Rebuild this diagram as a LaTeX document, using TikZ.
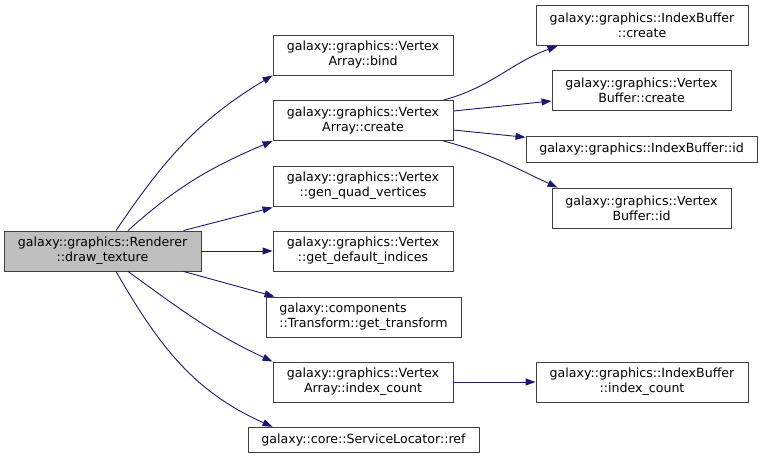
\documentclass[tikz,border=0pt]{standalone}
\usepackage{fontspec}
\setmainfont{DejaVu Sans}
\usetikzlibrary{arrows.meta}
\definecolor{edgeblue}{HTML}{191970}
\definecolor{boxline}{HTML}{404040}
\definecolor{focusfill}{HTML}{BFBFBF}

\begin{document}
\begin{tikzpicture}[
    x=1pt, y=-1pt,
    every node/.style={font=\fontsize{12.6}{15}\selectfont},
    fn/.style={rectangle, draw=boxline, fill=white, line width=0.9pt,
               inner sep=0pt, minimum height=40pt, align=center},
    fnline/.style={fn, minimum height=25.5pt},
    focus/.style={fn, fill=focusfill},
    call/.style={-{Triangle[length=10pt, width=7pt]}, line width=0.9pt, color=edgeblue},
]
\useasboundingbox (0,0) rectangle (763,459);

% the caller
\node[focus, minimum width=197pt] (rdraw) at (102.5,251)
    {galaxy::graphics::Renderer\\::draw\_texture};

% first level of callees
\node[fn, minimum width=180pt] (vabind) at (363,55) {galaxy::graphics::Vertex\\Array::bind};
\node[fn, minimum width=180pt] (vacreate) at (363,120.5) {galaxy::graphics::Vertex\\Array::create};
\node[fn, minimum width=180pt] (vgenquad) at (363,186) {galaxy::graphics::Vertex\\::gen\_quad\_vertices};
\node[fn, minimum width=180pt] (vgetdefault) at (363,251) {galaxy::graphics::Vertex\\::get\_default\_indices};
\node[fn, minimum width=195pt, align=left] (ttransform) at (363.5,317)
    {galaxy::components\\::Transform::get\_transform};
\node[fn, minimum width=180pt] (vaindexcount) at (363,382) {galaxy::graphics::Vertex\\Array::index\_count};
\node[fnline, minimum width=231pt] (slref) at (363.5,440) {galaxy::core::ServiceLocator::ref};

% second level of callees
\node[fn, minimum width=212pt] (ibcreate) at (642,25.5) {galaxy::graphics::IndexBuffer\\::create};
\node[fn, minimum width=179pt] (vbcreate) at (641.5,90.5) {galaxy::graphics::Vertex\\Buffer::create};
\node[fnline, minimum width=231pt] (ibid) at (641.5,149.5) {galaxy::graphics::IndexBuffer::id};
\node[fn, minimum width=179pt] (vbid) at (641.5,208) {galaxy::graphics::Vertex\\Buffer::id};
\node[fn, minimum width=212pt] (ibindexcount) at (642,382) {galaxy::graphics::IndexBuffer\\::index\_count};

% calls from the caller
\draw[call] ([xshift=13.5pt]rdraw.north) to[out=56, in=211] (vabind.south west);
\draw[call] ([xshift=25.5pt]rdraw.north) to[out=42, in=203] (vacreate.south west);
\draw[call] ([xshift=-18pt]rdraw.north east) -- ([yshift=-1pt]vgenquad.south west);
\draw[call] (rdraw) -- (vgetdefault);
\draw[call] ([xshift=-18pt]rdraw.south east) -- ([xshift=9pt]ttransform.north west);
\draw[call] ([xshift=25.5pt]rdraw.south) to[out=-36, in=155] (vaindexcount.north west);
\draw[call] ([xshift=13.5pt]rdraw.south) to[out=-60, in=156] ([xshift=25pt]slref.north west);

% calls one level down
\draw[call] ([xshift=-10pt]vacreate.north east) to[out=15, in=200] ([xshift=22pt]ibcreate.south west);
\draw[call] ([yshift=9.5pt]vacreate.east) -- ([yshift=-10.5pt]vbcreate.west);
\draw[call] ([yshift=-9.5pt]vacreate.east) -- ([yshift=-1pt]ibid.north west);
\draw[call] ([xshift=-10pt]vacreate.south east) to[out=-15, in=155] ([xshift=6pt]vbid.north west);
\draw[call] (vaindexcount) -- (ibindexcount);
\end{tikzpicture}
\end{document}
